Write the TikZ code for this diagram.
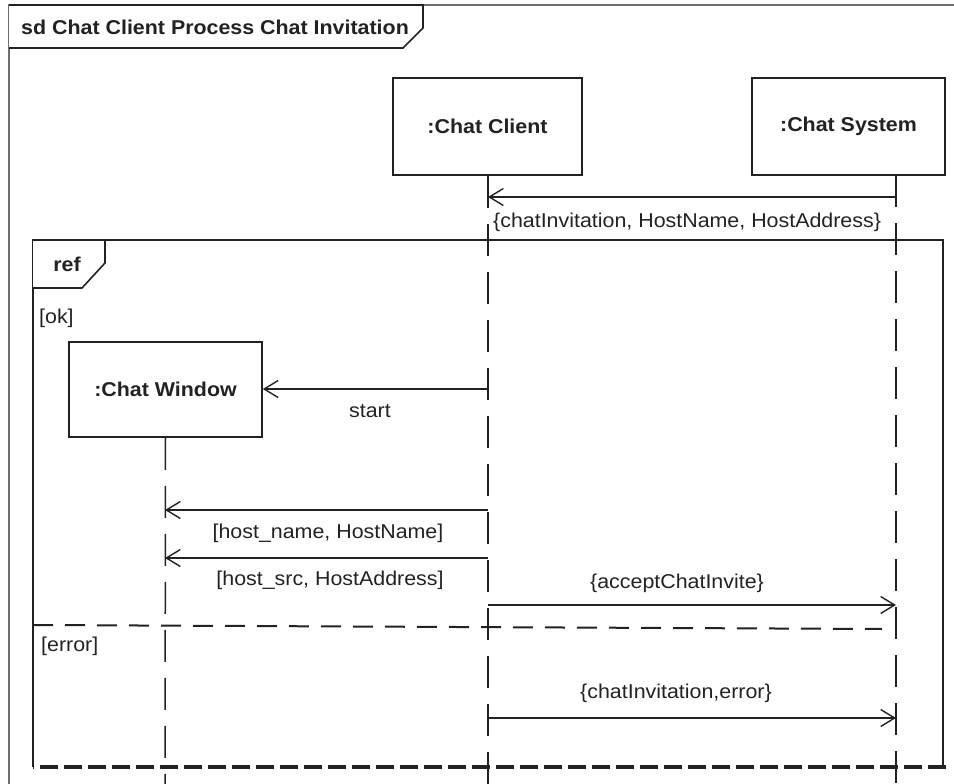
\documentclass[tikz,border=0pt]{standalone}
\usepackage{fontspec}
\setmainfont{Liberation Sans}[FakeStretch=1.07]
\usetikzlibrary{arrows.meta}
\definecolor{ink}{RGB}{34,34,34}
\definecolor{framegray}{RGB}{110,110,110}
\begin{document}
\begin{tikzpicture}[x=1pt,y=-1pt,
  every node/.style={font=\fontsize{20}{24}\selectfont, text=ink},
  objbox/.style={draw=ink, line width=1.6pt, fill=white, inner sep=0pt, font=\fontsize{20}{24}\selectfont\bfseries},
  lifeline/.style={draw=ink, line width=1.5pt, dash pattern=on 32pt off 16pt},
  msg/.style={draw=ink, line width=1.4pt, -{Straight Barb[length=14pt, width=17pt, line width=1.4pt]}},
  tab/.style={draw=ink, line width=1.6pt, fill=white},
  lbl/.style={inner sep=0pt}
]
\useasboundingbox (0,0) rectangle (954,784);

% outer diagram frame (runs off the page to the right and bottom)
\draw[framegray, line width=2.2pt] (9,784) -- (9,5) -- (954,5);
\draw[tab] (9,5) -- (423,5) -- (423,28) -- (403,48) -- (9,48);
\node[lbl, anchor=west, font=\fontsize{20}{24}\selectfont\bfseries] (title) at (21,27) {sd Chat Client Process Chat Invitation};

% participants
\node[objbox, minimum width=189pt, minimum height=97pt] (client) at (487.5,126.5) {:Chat Client};
\node[objbox, minimum width=193pt, minimum height=97pt] (system) at (848.5,126.5) {:Chat System};

% lifelines
\coordinate (clientEnd) at (488,784);
\coordinate (systemEnd) at (896,784);
\draw[lifeline] (client.south -| clientEnd) -- (clientEnd);
\draw[lifeline] (896,175) -- (systemEnd);

% incoming invitation
\coordinate (m1) at (0,197);
\draw[msg] (systemEnd |- m1) -- (clientEnd |- m1);
\node[lbl, anchor=west] (l1) at (493,222) {\{chatInvitation, HostName, HostAddress\}};

% combined fragment
\coordinate (refTL) at (33,240);
\coordinate (refBR) at (943,767);
\draw[ink, line width=1.8pt] (33,767) -- (refTL) -- (943,240) -- (refBR);
\draw[ink, line width=3.6pt, dash pattern=on 18pt off 6pt] (946,767) -- (33,767);
\draw[tab] (33,240) -- (105,240) -- (105,263) -- (82,288) -- (33,288);
\node[lbl, font=\fontsize{20}{24}\selectfont\bfseries] (reflbl) at (67,264) {ref};
\node[lbl, anchor=west] (ok) at (39,318) {[ok]};

% chat window created inside the fragment
\node[objbox, minimum width=193pt, minimum height=95pt] (window) at (165.5,389.5) {:Chat Window};
\coordinate (windowEnd) at (165,784);
\draw[lifeline] (window.south) -- (windowEnd);

\coordinate (m2) at (0,389);
\draw[msg] (clientEnd |- m2) -- (window.east |- m2);
\node[lbl] (l2) at (370,411) {start};

\coordinate (m3) at (0,510);
\draw[msg] (clientEnd |- m3) -- (windowEnd |- m3);
\node[lbl] (l3) at (328,533) {[host\_name, HostName]};

\coordinate (m4) at (0,558);
\draw[msg] (clientEnd |- m4) -- (windowEnd |- m4);
\node[lbl] (l4) at (330,580) {[host\_src, HostAddress]};

\coordinate (m5) at (0,605);
\draw[msg] (clientEnd |- m5) -- (systemEnd |- m5);
\node[lbl] (l5) at (677,583) {\{acceptChatInvite\}};

% operand separator
\coordinate (sepL) at (33,625);
\coordinate (sepR) at (882,629);
\draw[ink, line width=2pt, dash pattern=on 20pt off 12pt] (sepL) -- (sepR);
\node[lbl, anchor=west] (err) at (41,646) {[error]};

\coordinate (m6) at (0,718);
\draw[msg] (clientEnd |- m6) -- (systemEnd |- m6);
\node[lbl] (l6) at (676,693) {\{chatInvitation,error\}};
\end{tikzpicture}
\end{document}
